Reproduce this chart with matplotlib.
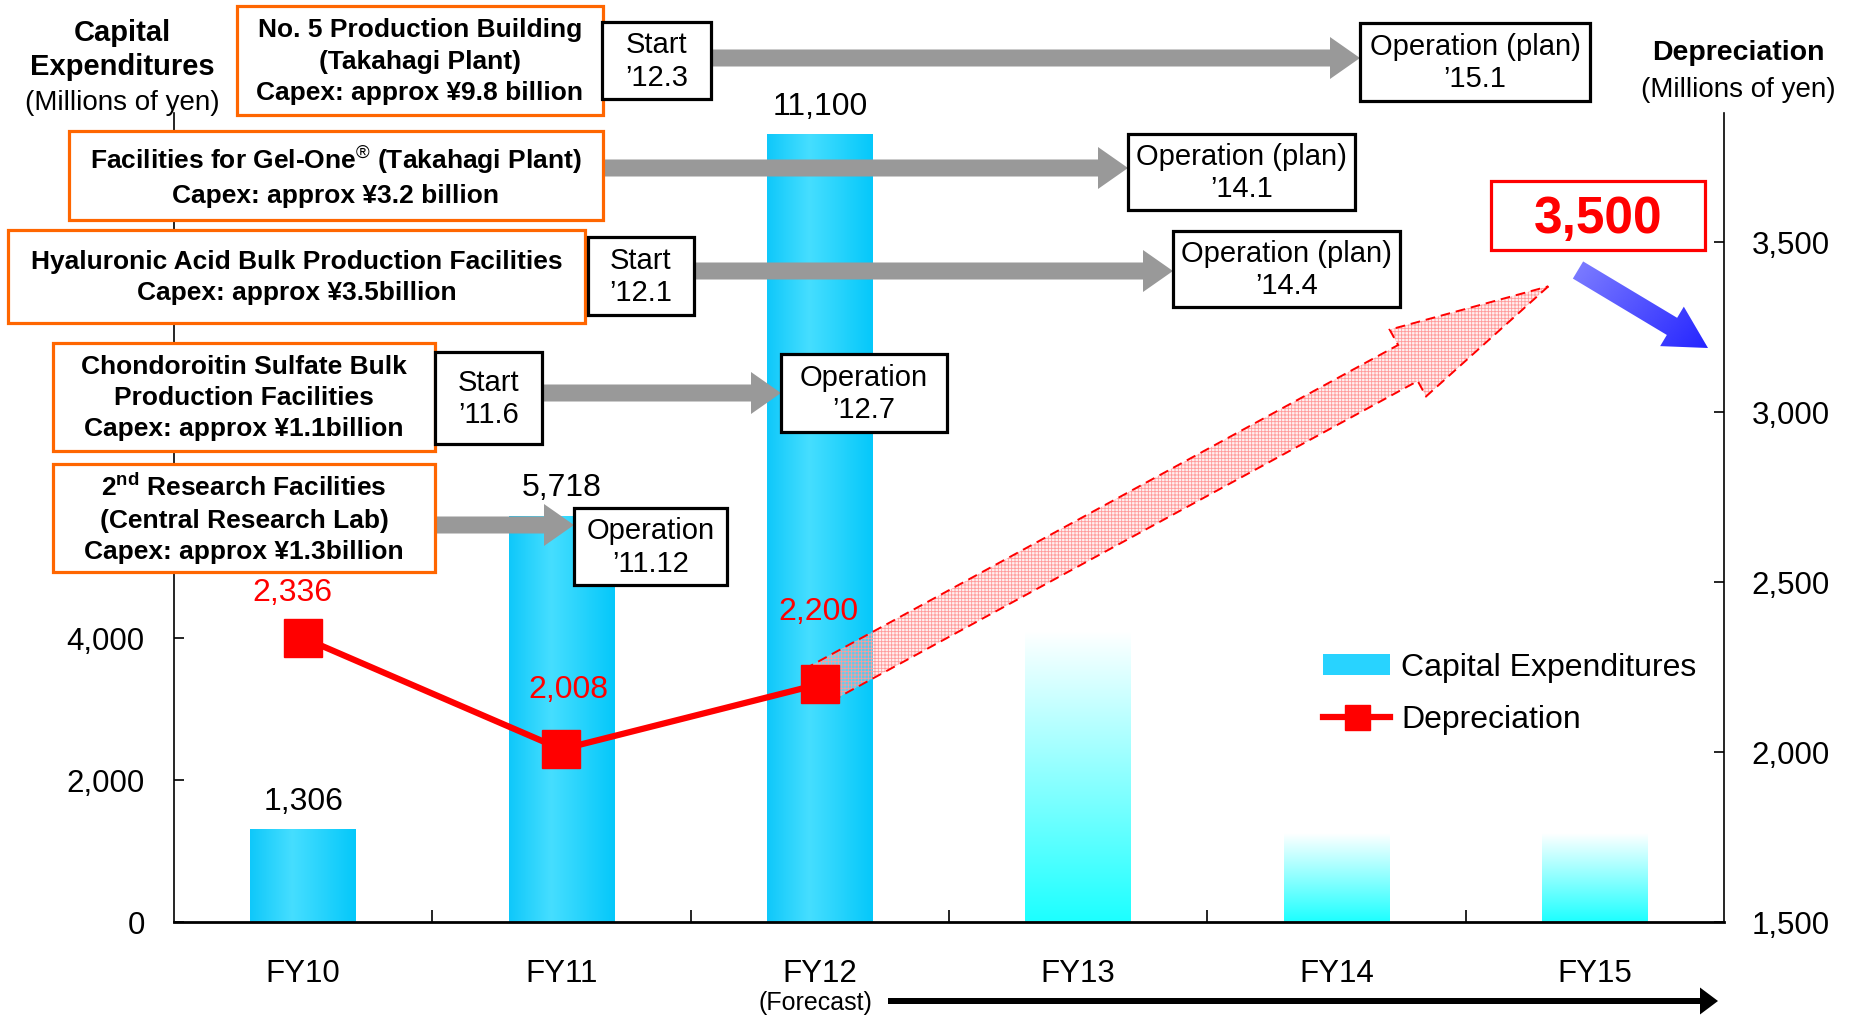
import matplotlib
matplotlib.use("Agg")
import matplotlib.pyplot as plt
import numpy as np
from matplotlib import patches
from matplotlib.lines import Line2D
from matplotlib.colors import LinearSegmentedColormap
from matplotlib.ticker import FuncFormatter
from matplotlib.transforms import IdentityTransform

plt.rcParams['font.family'] = ['Liberation Sans', 'DejaVu Sans']
plt.rcParams['mathtext.fontset'] = 'custom'
plt.rcParams['mathtext.rm'] = 'Liberation Sans'
plt.rcParams['mathtext.it'] = 'Liberation Sans'
plt.rcParams['mathtext.bf'] = 'Liberation Sans:bold'
plt.rcParams['hatch.linewidth'] = 0.6

# Datos (millones de yenes)
years = ["FY10", "FY11", "FY12", "FY13", "FY14", "FY15"]
capex = [1306, 5718, 11100]          # FY12 = previsión
capex_plan = [4100, 1250, 1250]      # FY13-FY15, sin etiqueta
depreciation = [2336, 2008, 2200]
depreciation_target = 3500

# Proyectos: nombre, inicio, puesta en marcha
project_names = [
    "No. 5 Production Building\n(Takahagi Plant)\nCapex: approx ¥9.8 billion",
    "Facilities for Gel-One$^{\\circledR}$ (Takahagi Plant)\nCapex: approx ¥3.2 billion",
    "Hyaluronic Acid Bulk Production Facilities\nCapex: approx ¥3.5billion",
    "Chondoroitin Sulfate Bulk\nProduction Facilities\nCapex: approx ¥1.1billion",
    "2$^{\\mathbf{nd}}$ Research Facilities\n(Central Research Lab)\nCapex: approx ¥1.3billion",
]
start_labels = ["Start\n’12.3", None, "Start\n’12.1", "Start\n’11.6", None]
operation_labels = ["Operation (plan)\n’15.1", "Operation (plan)\n’14.1",
                    "Operation (plan)\n’14.4", "Operation\n’12.7", "Operation\n’11.12"]

# Cajas en pixeles (x0, y0, x1, y1), y hacia abajo
name_boxes = [(237, 6, 603, 115), (69, 131, 603, 220), (8, 230, 585, 323),
              (53, 343, 435, 451), (53, 464, 435, 572)]
start_boxes = [(602, 22, 711, 99), None, (588, 237, 694, 315), (435, 352, 542, 444), None]
op_boxes = [(1360, 23, 1590, 101), (1128, 134, 1355, 210), (1173, 231, 1400, 307),
            (781, 354, 947, 432), (574, 508, 727, 585)]
arrow_y = [58, 168, 271, 393, 525]

W, H = 1856, 1016
fig = plt.figure(figsize=(W / 100, H / 100), dpi=100)
ax = fig.add_axes([174 / W, 1 - 922 / H, (1724 - 174) / W, (922 - 113) / H])
ax2 = ax.twinx()

x = np.arange(len(years))
side_cmap = LinearSegmentedColormap.from_list(
    'side', [(0, '#0FC8FA'), (0.4, '#46DEFF'), (1, '#05C8FA')])
fade_cmap = LinearSegmentedColormap.from_list('fade', ['#1CFFFF', '#FFFFFF'])

bars = ax.bar(x[:3], capex, width=0.41, color='none', edgecolor='none', zorder=2)
plan_bars = ax.bar(x[3:], capex_plan, width=0.41, color='none', edgecolor='none', zorder=2)
for b in bars:
    x0, w, h = b.get_x(), b.get_width(), b.get_height()
    im = ax.imshow(np.linspace(0, 1, 256)[None, :], cmap=side_cmap,
                   extent=(x0, x0 + w, 0, h), aspect='auto', zorder=2)
    im.set_clip_path(b)
for b in plan_bars:
    x0, w, h = b.get_x(), b.get_width(), b.get_height()
    im = ax.imshow(np.linspace(1, 0, 256)[:, None], cmap=fade_cmap,
                   extent=(x0, x0 + w, 0, h), aspect='auto', zorder=2)
    im.set_clip_path(b)

for xi, v in zip(x, capex):
    ax.annotate(f"{v:,}", (xi, v), xytext=(0, 20), textcoords='offset points',
                ha='center', va='center', fontsize=23)

ax2.plot(x[:3], depreciation, color='#FF0000', lw=4.5, marker='s', ms=27,
         zorder=4)
dep_offsets = [(-11, 45), (7, 59), (-1, 72)]
for xi, v, (dx, dy) in zip(x, depreciation, dep_offsets):
    ax2.annotate(f"{v:,}", (xi, v), xytext=(dx * 0.72, dy * 0.72),
                 textcoords='offset points', ha='center', va='center',
                 color='#FF0000', fontsize=23, zorder=5)

# Ejes
ax.set_xlim(-0.5, 5.5)
ax.set_ylim(0, 11400)
ax2.set_ylim(1500, 3880)
ax.set_xticks(np.arange(0.5, 5, 1))
ax.set_xticklabels([])
ax.set_xticks(x, labels=years, minor=True)
ax.tick_params(axis='x', which='major', direction='in', length=9, width=1.2)
ax.tick_params(axis='x', which='minor', length=0, pad=27, labelsize=22.5)
fmt = FuncFormatter(lambda v, p: f"{v:,.0f}")
ax.set_yticks([0, 2000, 4000])
ax.yaxis.set_major_formatter(fmt)
ax.tick_params(axis='y', direction='in', length=7, width=1.2, pad=21, labelsize=22.5)
ax2.set_yticks([1500, 2000, 2500, 3000, 3500])
ax2.yaxis.set_major_formatter(fmt)
ax2.tick_params(axis='y', direction='in', length=7, width=1.2, pad=20, labelsize=22.5)
for s in ['top', 'right']:
    ax.spines[s].set_visible(False)
for s in ['top', 'left', 'bottom']:
    ax2.spines[s].set_visible(False)
ax.spines['bottom'].set_linewidth(2.0)
ax.spines['left'].set_linewidth(1.2)
ax2.spines['right'].set_linewidth(1.2)

# Flecha de tendencia de la amortizacion
tail = ax2.transData.transform((2, depreciation[2]))
tip = ax2.transData.transform((4.82, depreciation_target - 130))
d = tip - tail
for fc, ec, lw, hatch, ls in [((1, 0.8, 0.8, 0.3), '#FF9A9A', 0, '+++++', '-'),
                              ('none', '#FF0000', 1.4, None, (0, (5, 3)))]:
    arr = patches.FancyArrow(tail[0], tail[1], d[0], d[1], width=41, head_width=76,
                             head_length=160, length_includes_head=True,
                             transform=IdentityTransform(), facecolor=fc,
                             edgecolor=ec, linewidth=lw, hatch=hatch,
                             linestyle=ls, zorder=3)
    ax2.add_patch(arr)

handles = [patches.Patch(facecolor='#28D3FF', edgecolor='none'),
           Line2D([], [], color='#FF0000', lw=4.5, marker='s', ms=18)]
ax2.legend(handles, ['Capital Expenditures', 'Depreciation'], loc='upper left',
           bbox_to_anchor=(1323 / W, 1 - 653 / H), bbox_transform=fig.transFigure,
           frameon=False, fontsize=23, handlelength=2.1, handleheight=0.65,
           handletextpad=0.35, labelspacing=0.68, borderpad=0, borderaxespad=0)

# Capa superior en pixeles para cajas y flechas
ov = fig.add_axes([0, 0, 1, 1], zorder=10)
ov.patch.set_visible(False)
ov.axis('off')


def caja(b, text, edge, weight, size, ls):
    x0, y0, x1, y1 = b
    ov.add_patch(patches.Rectangle((x0, y0), x1 - x0, y1 - y0, facecolor='white',
                                   edgecolor=edge, lw=2.3, zorder=5))
    ov.text((x0 + x1) / 2, (y0 + y1) / 2 + 1, text, ha='center', va='center',
            ma='center', fontsize=size, fontweight=weight, linespacing=ls, zorder=6)


def flecha(x0, x1, y):
    ov.add_patch(patches.FancyArrow(x0, y, x1 - x0, 0, width=17, head_width=42,
                                    head_length=30, length_includes_head=True,
                                    facecolor='#999999', edgecolor='none', zorder=4))


for i, name in enumerate(project_names):
    nb, sb, ob = name_boxes[i], start_boxes[i], op_boxes[i]
    origin = sb if sb is not None else nb
    flecha(origin[2], ob[0], arrow_y[i])
    caja(nb, name, '#FF6600', 'bold', 19, 1.38)
    if sb is not None:
        caja(sb, start_labels[i], 'black', 'normal', 21, 1.22)
    caja(ob, operation_labels[i], 'black', 'normal', 21, 1.22)

# Objetivo de amortizacion
caja((1491, 181, 1705, 250), "", '#FF0000', 'bold', 37, 1.0)
ov.text(1598, 233, f"{depreciation_target:,}", ha='center', va='baseline',
        fontsize=37, fontweight='bold', color='#FF0000', zorder=6)

blue = patches.FancyArrow(1578, 270, 130, 78, width=20, head_width=46, head_length=42,
                          length_includes_head=True, facecolor='none',
                          edgecolor='none', zorder=5)
ov.add_patch(blue)
gx, gy = np.meshgrid(np.linspace(0, 1, 64), np.linspace(0, 1, 64))
blue_cmap = LinearSegmentedColormap.from_list('blue', ['#8484FF', '#1C1CFF'])
bim = ov.imshow(gx * 0.86 + gy * 0.5, cmap=blue_cmap, extent=(1565, 1720, 360, 255),
                aspect='auto', zorder=5)
bim.set_clip_path(blue)

# Titulos de los ejes
ov.text(122, 41, "Capital", ha='center', va='baseline', fontsize=21, fontweight='bold')
ov.text(122, 75, "Expenditures", ha='center', va='baseline', fontsize=21, fontweight='bold')
ov.text(122, 110, "(Millions of yen)", ha='center', va='baseline', fontsize=20)
ov.text(1738, 60, "Depreciation", ha='center', va='baseline', fontsize=20.5, fontweight='bold')
ov.text(1738, 97, "(Millions of yen)", ha='center', va='baseline', fontsize=20)

# Prevision
ov.text(815, 1003, "(Forecast)", ha='center', va='center', fontsize=18)
ov.add_patch(patches.FancyArrow(888, 1001, 830, 0, width=6, head_width=27,
                                head_length=18, length_includes_head=True,
                                facecolor='black', edgecolor='none', zorder=5))

ov.set_xlim(0, W)
ov.set_ylim(H, 0)

fig.savefig("out.png", dpi=100)
